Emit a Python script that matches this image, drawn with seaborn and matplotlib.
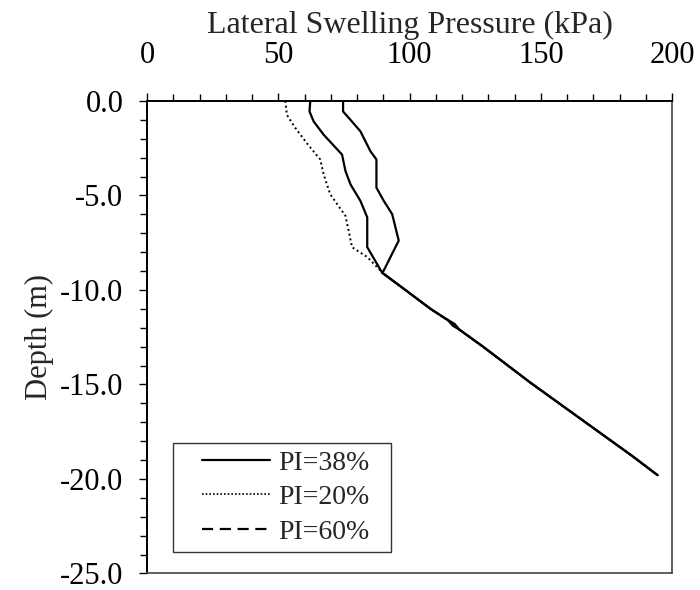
import pandas as pd
import matplotlib
matplotlib.use("Agg")
import matplotlib.pyplot as plt
from matplotlib.lines import Line2D
from matplotlib.legend_handler import HandlerLine2D
from matplotlib.ticker import MultipleLocator, FormatStrFormatter
import seaborn as sns

# ----------------------------
# Data (pressure kPa, depth m)
# ----------------------------
pi38_pressure = [62.2, 61.9, 63.5, 67.3, 74.3, 75.6, 77.5, 81.3, 83.9, 83.9, 89.6,
                 98.4, 108.0, 114.6, 116.6, 119.0, 128.0, 146.0, 165.0, 185.0, 194.5]
pi38_depth = [0.0, -0.56, -1.09, -1.79, -2.84, -3.71, -4.41, -5.29, -6.16, -7.74, -9.09,
              -10.0, -11.0, -11.6, -11.9, -12.1, -13.0, -14.9, -16.8, -18.8, -19.8]

pi20_pressure = [52.7, 53.3, 56.5, 61.3, 66.0, 67.3, 69.8, 75.6, 76.8, 78.1, 83.9, 88.9, 89.6,
                 98.4, 108.0, 114.0, 117.0, 119.0, 128.0, 146.0, 165.0, 185.0, 194.5]
pi20_depth = [0.0, -0.74, -1.43, -2.31, -3.10, -3.89, -4.94, -6.08, -6.86, -7.74, -8.26, -8.97, -9.09,
              -10.0, -11.0, -11.55, -11.85, -12.1, -13.0, -14.9, -16.8, -18.8, -19.8]

pi60_pressure = [74.7, 74.7, 77.5, 81.3, 85.1, 87.4, 87.4, 90.2, 93.4, 95.9, 90.2, 89.6,
                 98.4, 108.0, 113.0, 117.2, 119.0, 128.0, 146.0, 165.0, 185.0, 194.5]
pi60_depth = [0.0, -0.56, -1.0, -1.61, -2.66, -3.1, -4.59, -5.29, -5.99, -7.39, -8.97, -9.09,
              -10.0, -11.0, -11.45, -11.8, -12.1, -13.0, -14.9, -16.8, -18.8, -19.8]

series_labels = ["PI=38%", "PI=20%", "PI=60%"]

sns.set_style("ticks")
plt.rcParams["font.family"] = ["Liberation Serif", "DejaVu Serif"]
plt.rcParams["axes.unicode_minus"] = False

fig = plt.figure(figsize=(7, 5.9), dpi=100)
ax = fig.add_axes([0.21, 0.028, 0.75, 0.801])

# PI=38% solid, PI=20% dotted, PI=60% (renders nearly solid in the source)
sns.lineplot(x=pi38_pressure, y=pi38_depth, sort=False, estimator=None,
             color="black", linewidth=1.6, ax=ax)
sns.lineplot(x=pi20_pressure, y=pi20_depth, sort=False, estimator=None,
             color="black", linewidth=1.4, linestyle=(0, (1, 1.5)), ax=ax)
sns.lineplot(x=pi60_pressure, y=pi60_depth, sort=False, estimator=None,
             color="black", linewidth=1.6, ax=ax)

ax.set_xlim(0, 200)
ax.set_ylim(-25, 0)
ax.xaxis.set_major_locator(MultipleLocator(50))
ax.xaxis.set_minor_locator(MultipleLocator(10))
ax.yaxis.set_major_locator(MultipleLocator(5))
ax.yaxis.set_minor_locator(MultipleLocator(1))
ax.yaxis.set_major_formatter(FormatStrFormatter("%.1f"))

ax.xaxis.tick_top()
ax.xaxis.set_label_position("top")
ax.tick_params(axis="both", which="both", direction="out", colors="black",
               labelsize=22, width=1.0)
ax.tick_params(which="major", length=6)
ax.tick_params(which="minor", length=5)
ax.tick_params(axis="x", pad=16)
ax.tick_params(axis="y", pad=11)

for side in ["left", "top"]:
    ax.spines[side].set_linewidth(1.4)
    ax.spines[side].set_color("black")
for side in ["right", "bottom"]:
    ax.spines[side].set_linewidth(1.2)
    ax.spines[side].set_color("#444444")

ax.set_xlabel("Lateral Swelling Pressure (kPa)", fontsize=23, labelpad=6)
ax.set_ylabel("Depth (m)", fontsize=22, labelpad=4)

# ----------------------------
# Legend
# ----------------------------
handles = [
    Line2D([], [], color="black", linewidth=1.6, linestyle="-"),
    Line2D([], [], color="black", linewidth=1.2, linestyle=(0, (1, 1.2))),
    Line2D([], [], color="black", linewidth=1.6, linestyle=(0, (5, 3))),
]
leg = ax.legend(handles, series_labels, loc="lower left",
                bbox_to_anchor=(0.049, 0.046, 0.415, 0.2), mode="expand",
                fontsize=20, frameon=True, fancybox=False, edgecolor="black",
                handlelength=3.25, handletextpad=0.29, borderpad=0.25,
                labelspacing=0.33, borderaxespad=0,
                handler_map={Line2D: HandlerLine2D(xpad=0.8)})
leg.get_frame().set_linewidth(1.0)

fig.savefig("out.png", dpi=100)
